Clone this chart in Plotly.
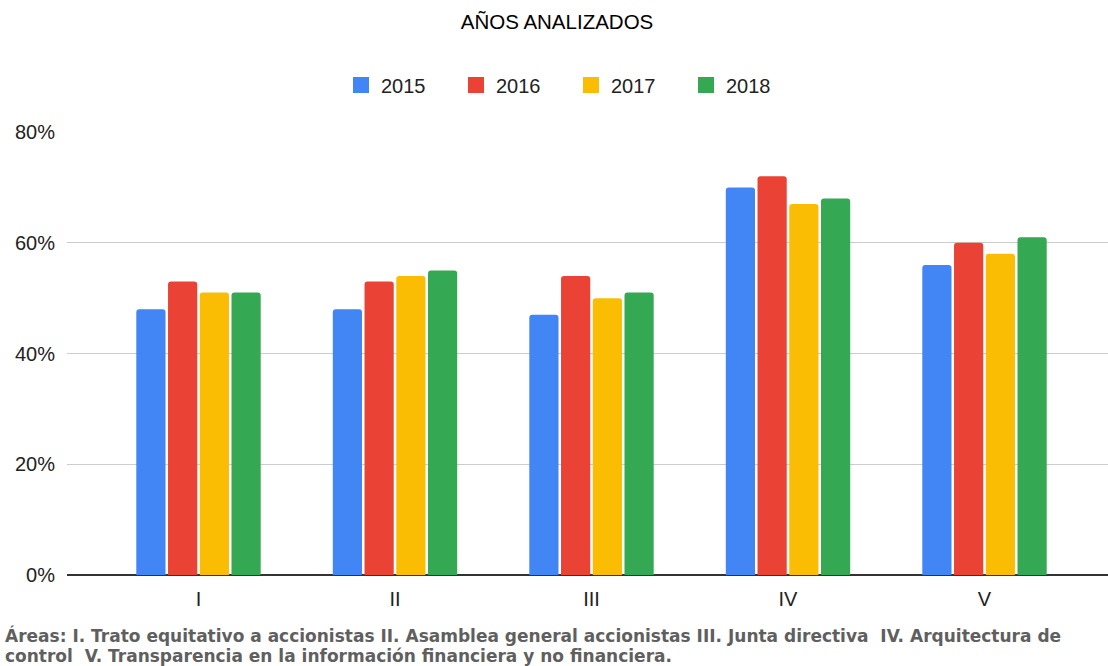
import plotly.graph_objects as go

categories = ["I", "II", "III", "IV", "V"]
years = ["2015", "2016", "2017", "2018"]
v2015 = [48, 48, 47, 70, 56]
v2016 = [53, 53, 54, 72, 60]
v2017 = [51, 54, 50, 67, 58]
v2018 = [51, 55, 51, 68, 61]
series = [v2015, v2016, v2017, v2018]
colors = ["#4285F4", "#EA4335", "#FBBC04", "#34A853"]
y_ticks = [0, 20, 40, 60, 80]
y_tick_labels = ["0%", "20%", "40%", "60%", "80%"]
title_text = "AÑOS ANALIZADOS"
caption_lines = [
    "Áreas: I. Trato equitativo a accionistas II. Asamblea general accionistas III. Junta directiva  IV. Arquitectura de",
    "control  V. Transparencia en la información financiera y no financiera.",
]

FONT = "Liberation Sans, Arial, sans-serif"
CAPTION_FONT = "DejaVu Sans, Liberation Sans, sans-serif"

fig = go.Figure()
for name, vals, col in zip(years, series, colors):
    fig.add_trace(go.Bar(x=categories, y=vals, name=name, marker=dict(color=col, line=dict(width=0)),
                         showlegend=False))
for name, col in zip(years, colors):
    fig.add_trace(go.Scatter(x=[None], y=[None], mode="markers", name=name,
                             marker=dict(symbol="square", size=16, color=col)))

W, H = 1108, 666
L, R, T, B = 67, 0, 132, 91
pw = W - L - R
ph = H - T - B
center0 = 198.5
step = 196.5
r0 = -(center0 - L) / step
r1 = r0 + pw / step


def py(pixel_y):
    return (H - B - pixel_y) / ph


def px(pixel_x):
    return (pixel_x - L) / pw


annotations = []
for line, yc in zip(caption_lines, [635, 656]):
    annotations.append(dict(text=line, xref="paper", yref="paper", x=px(3), xanchor="left",
                            y=py(yc), yanchor="middle", showarrow=False, align="left",
                            font=dict(size=17, color="#5F5F5F", family=CAPTION_FONT, weight="bold")))

fig.update_layout(
    width=W, height=H,
    margin=dict(l=L, r=R, t=T, b=B),
    paper_bgcolor="white", plot_bgcolor="white",
    font=dict(family=FONT, color="#222222", size=20),
    barmode="group", bargap=0.354, bargroupgap=0.08, barcornerradius=3,
    xaxis=dict(range=[r0, r1], showgrid=False, ticks="", tickfont=dict(size=20, color="#222222"),
               showline=False, zeroline=False, ticklabelstandoff=10),
    yaxis=dict(range=[0, 80], tickvals=y_ticks, ticktext=y_tick_labels, showgrid=True,
               gridcolor="#CCCCCC", gridwidth=1, zeroline=True, zerolinecolor="#333333", zerolinewidth=1.5,
               tickfont=dict(size=20, color="#222222"), ticks="", ticklabelstandoff=11),
    legend=dict(orientation="h", x=px(571), xanchor="center", y=py(85), yanchor="middle",
                font=dict(size=20, color="#222222"), entrywidth=70, entrywidthmode="pixels",
                itemclick=False, bgcolor="rgba(0,0,0,0)"),
    title=dict(text=title_text, x=557 / W, xanchor="center", xref="container",
               y=1 - 22 / H, yanchor="middle", yref="container",
               font=dict(size=20.5, color="#000000", family=FONT)),
    annotations=annotations,
)

fig.write_html("out.html")
